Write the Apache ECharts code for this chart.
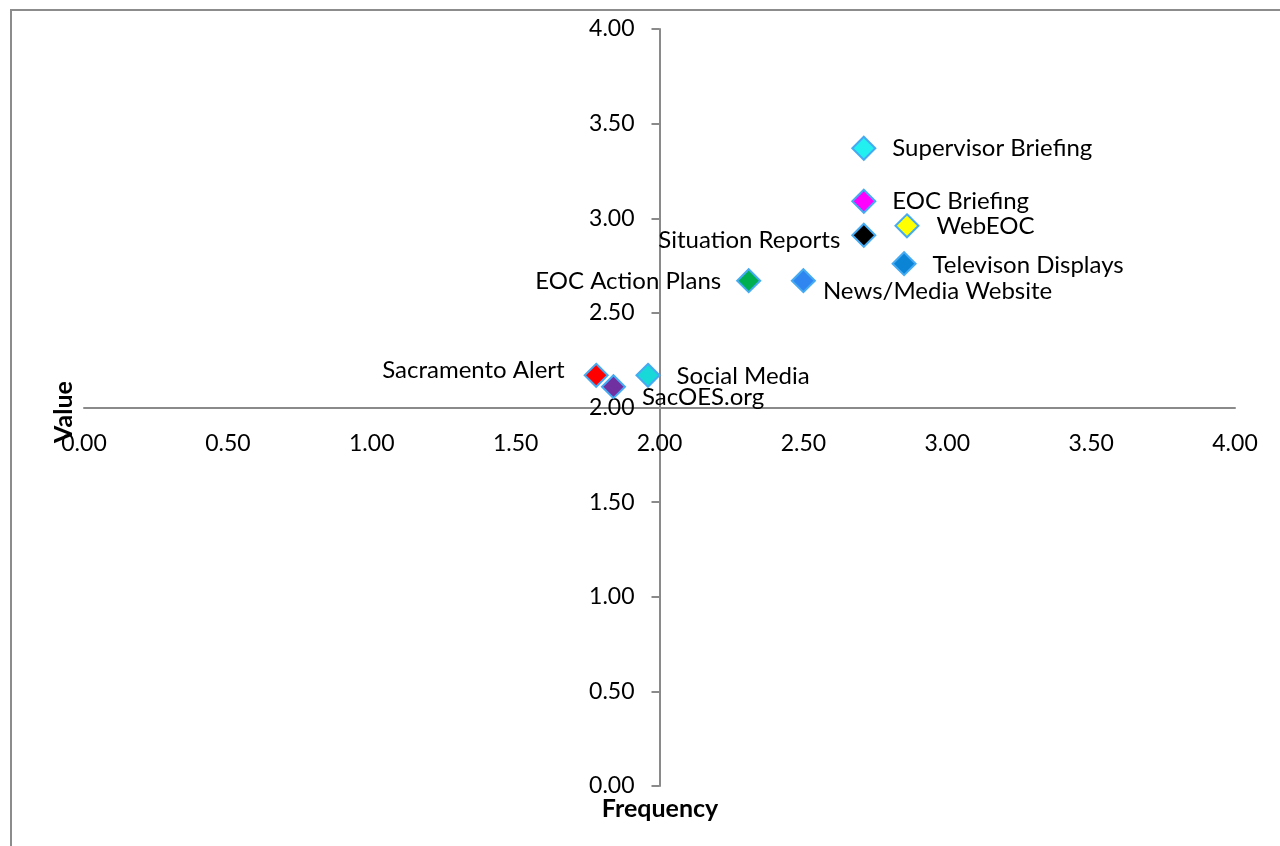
<!DOCTYPE html>
<html>
<head>
<meta charset="utf-8">
<style>
  html, body { margin: 0; padding: 0; background: #ffffff; }
  #chart { width: 1280px; height: 846px; }
</style>
<script src="https://cdn.jsdelivr.net/npm/echarts@6/dist/echarts.min.js"></script>
</head>
<body>
<div id="chart"></div>
<script>
// Communication tools rated by frequency of use and value
const toolNames = [
  'Supervisor Briefing', 'EOC Briefing', 'WebEOC', 'Situation Reports',
  'Televison Displays', 'EOC Action Plans', 'News/Media Website',
  'Sacramento Alert', 'Social Media', 'SacOES.org'
];
const frequency = [2.71, 2.71, 2.86, 2.71, 2.85, 2.31, 2.50, 1.78, 1.96, 1.84];
const value     = [3.37, 3.09, 2.96, 2.91, 2.76, 2.67, 2.67, 2.17, 2.17, 2.11];
const axisTicks = [0, 0.5, 1, 1.5, 2, 2.5, 3, 3.5, 4];

const markerColors = [
  '#22f0f0', '#ff00ff', '#ffff00', '#000000', '#0b84d6',
  '#00b050', '#2f86f0', '#ff0000', '#19d8d8', '#7030a0'
];

// where each label sits relative to its marker
const labelPlacement = {
  'Supervisor Briefing': { position: 'right', distance: 16, offset: [0, 0] },
  'EOC Briefing':        { position: 'right', distance: 16, offset: [0, 0] },
  'WebEOC':              { position: 'right', distance: 17, offset: [0, 0] },
  'Situation Reports':   { position: 'left',  distance: 11, offset: [0, 5] },
  'Televison Displays':  { position: 'right', distance: 16, offset: [0, 2] },
  'EOC Action Plans':    { position: 'left',  distance: 15, offset: [0, 1] },
  'News/Media Website':  { position: 'right', distance: 7,  offset: [0, 11] },
  'Sacramento Alert':    { position: 'left',  distance: 19, offset: [0, -5] },
  'Social Media':        { position: 'right', distance: 16, offset: [0, 1] },
  'SacOES.org':          { position: 'right', distance: 16, offset: [0, 11] }
};

const FONT = 'Lato, "Open Sans", sans-serif';
const grid = { left: 84, right: 45, top: 29, bottom: 60 };
const plotW = 1280 - grid.left - grid.right;
const plotH = 846 - grid.top - grid.bottom;
const axisGrey = '#8a8a8a';

const points = toolNames.map((name, i) => {
  const p = labelPlacement[name];
  return {
    name: name,
    value: [frequency[i], value[i]],
    itemStyle: { color: markerColors[i] },
    label: { position: p.position, distance: p.distance, offset: p.offset }
  };
});

const chart = echarts.init(document.getElementById('chart'), null, { renderer: 'canvas' });

chart.setOption({
  animation: false,
  backgroundColor: '#ffffff',
  grid: grid,
  xAxis: {
    type: 'value',
    min: axisTicks[0],
    max: axisTicks[axisTicks.length - 1],
    interval: axisTicks[1] - axisTicks[0],
    position: 'bottom',
    offset: -plotH / 2,
    axisLine: { show: true, onZero: false, lineStyle: { color: axisGrey, width: 2 } },
    axisTick: { show: false },
    splitLine: { show: false },
    axisLabel: {
      margin: 25,
      color: '#000000',
      fontFamily: FONT,
      fontSize: 23,
      formatter: v => v.toFixed(2)
    }
  },
  yAxis: {
    type: 'value',
    min: axisTicks[0],
    max: axisTicks[axisTicks.length - 1],
    interval: axisTicks[1] - axisTicks[0],
    position: 'left',
    offset: -plotW / 2,
    axisLine: { show: true, onZero: false, lineStyle: { color: axisGrey, width: 2 } },
    axisTick: { show: true, length: 8, lineStyle: { color: axisGrey, width: 2 } },
    splitLine: { show: false },
    axisLabel: {
      margin: 25,
      color: '#000000',
      fontFamily: FONT,
      fontSize: 23,
      formatter: v => v.toFixed(2)
    }
  },
  series: [{
    type: 'scatter',
    symbol: 'diamond',
    symbolSize: 23,
    itemStyle: { borderColor: '#45aaf2', borderWidth: 2, opacity: 1 },
    label: {
      show: true,
      formatter: '{b}',
      color: '#000000',
      fontFamily: FONT,
      fontSize: 24
    },
    emphasis: { disabled: true },
    data: points
  }],
  graphic: [
    {
      type: 'rect',
      silent: true,
      shape: { x: 11, y: 10, width: 1400, height: 1000 },
      style: { fill: null, stroke: '#8c8c8c', lineWidth: 2 }
    },
    {
      type: 'text',
      silent: true,
      x: 660, y: 809,
      style: {
        text: 'Frequency', font: 'bold 25px ' + FONT, fill: '#000000',
        align: 'center', verticalAlign: 'middle'
      }
    },
    {
      type: 'text',
      silent: true,
      x: 64, y: 412,
      rotation: Math.PI / 2,
      style: {
        text: 'Value', font: 'bold 25px ' + FONT, fill: '#000000',
        align: 'center', verticalAlign: 'middle'
      }
    }
  ]
});
</script>
</body>
</html>
